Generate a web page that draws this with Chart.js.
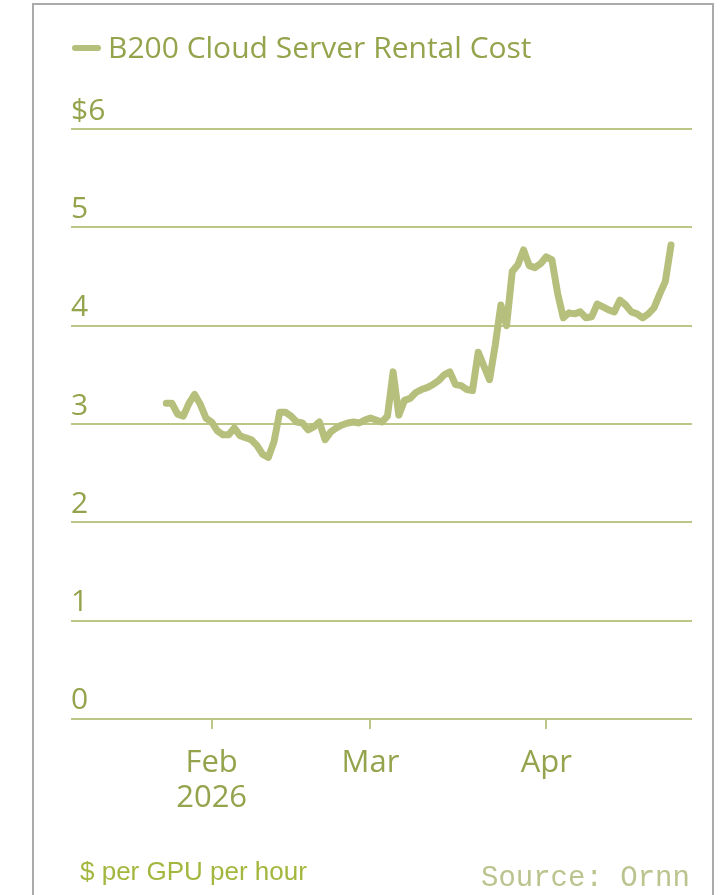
<!DOCTYPE html>
<html>
<head>
<meta charset="utf-8">
<script src="https://cdn.jsdelivr.net/npm/chart.js@4"></script>
<style>
  body { margin: 0; background: #fff; }
  #wrap { position: relative; width: 723px; height: 895px; overflow: hidden; }
  #frame { position: absolute; left: 32px; top: 3px; width: 678px; height: 900px;
           border: 2px solid #ababab; border-bottom: none; }
  #legend { position: absolute; left: 72px; top: 28px; font-family: "Open Sans"; font-size: 30px;
            color: #93a44c; white-space: nowrap; line-height: 38px; }
  #legend .dash { display: inline-block; width: 29px; height: 6px; border-radius: 3px;
                  background: #b6bf7c; vertical-align: middle; margin-right: 7px; position: relative; top: -2px; }
  #unit { position: absolute; left: 80px; top: 856px; font-family: "Liberation Sans"; font-size: 26px;
          color: #a4b63e; white-space: nowrap; }
  #source { position: absolute; left: 481px; top: 862px; font-family: "Liberation Mono"; font-size: 29px;
            color: #bbc48e; white-space: nowrap; }
  canvas { position: absolute; left: 0; top: 0; }
</style>
</head>
<body>
<div id="wrap">
  <div id="frame"></div>
  <canvas id="myChart" width="723" height="895"></canvas>
  <div id="legend"><span class="dash"></span>B200 Cloud Server Rental Cost</div>
  <div id="unit">$ per GPU per hour</div>
  <div id="source">Source: Ornn</div>
</div>
<script>
// daily B200 rental price, $ per GPU per hour, starting Jan 24 2026
const firstDay = 23; // days since Jan 1 2026
const prices = [
  3.21, 3.21, 3.10, 3.08, 3.21, 3.30, 3.20, 3.06, 3.02, 2.93,
  2.89, 2.89, 2.96, 2.88, 2.86, 2.84, 2.78, 2.69, 2.66, 2.82,
  3.12, 3.12, 3.08, 3.02, 3.01, 2.94, 2.97, 3.02, 2.84, 2.92,
  2.96, 2.99, 3.01, 3.02, 3.01, 3.04, 3.06, 3.04, 3.02, 3.08,
  3.53, 3.09, 3.24, 3.26, 3.32, 3.35, 3.37, 3.40, 3.44, 3.50,
  3.53, 3.40, 3.39, 3.35, 3.34, 3.73, 3.59, 3.45, 3.80, 4.21,
  4.00, 4.55, 4.62, 4.77, 4.61, 4.59, 4.63, 4.70, 4.67, 4.33,
  4.08, 4.13, 4.12, 4.14, 4.08, 4.09, 4.22, 4.19, 4.16, 4.14,
  4.26, 4.21, 4.14, 4.12, 4.08, 4.12, 4.18, 4.32, 4.45, 4.82
];

// x axis ticks (days since Jan 1 2026) and their labels
const tickDays = [31, 59, 90];
const tickLabels = [['Feb', '2026'], 'Mar', 'Apr'];
const xMin = 6.2;
const xMax = 115.7;

const yTicks = [0, 1, 2, 3, 4, 5, 6];

const textColor = '#93a44c';
const gridColor = '#bcc686';
const lineColor = '#b6bf7c';

let points = [];
for (let i = 0; i < prices.length; i++) {
  points.push({x: firstDay + i, y: prices[i]});
}

const data = {
  datasets: [{
    label: 'B200 Cloud Server Rental Cost',
    data: points,
    borderColor: lineColor,
    borderWidth: 7,
    pointRadius: 0,
    tension: 0,
    borderJoinStyle: 'round',
    borderCapStyle: 'round'
  }]
};

const config = {
  type: 'line',
  data: data,
  options: {
    responsive: false,
    animation: false,
    layout: {
      padding: {left: 71, right: 31, top: 129, bottom: 62}
    },
    plugins: {
      legend: {display: false},
      tooltip: {enabled: false}
    },
    scales: {
      x: {
        type: 'linear',
        min: xMin,
        max: xMax,
        afterBuildTicks: function(scale) {
          scale.ticks = tickDays.map(function(d) { return {value: d}; });
        },
        ticks: {
          color: textColor,
          font: {family: 'Open Sans', size: 31, lineHeight: 1.13},
          padding: 17,
          maxRotation: 0,
          autoSkip: false,
          callback: function(value) {
            let idx = tickDays.indexOf(value);
            return idx >= 0 ? tickLabels[idx] : '';
          }
        },
        grid: {
          drawOnChartArea: false,
          drawTicks: true,
          tickLength: 10,
          color: gridColor,
          lineWidth: 2
        },
        border: {display: false}
      },
      y: {
        min: 0,
        max: 6,
        afterBuildTicks: function(scale) {
          scale.ticks = yTicks.map(function(v) { return {value: v}; });
        },
        ticks: {
          mirror: true,
          padding: 0,
          labelOffset: -18,
          color: textColor,
          font: {family: 'Open Sans', size: 30},
          callback: function(value) {
            return value == 6 ? '$6' : String(value);
          }
        },
        grid: {
          drawTicks: false,
          color: gridColor,
          lineWidth: 2
        },
        border: {display: false}
      }
    }
  }
};

const myChart = new Chart(document.getElementById('myChart'), config);
</script>
</body>
</html>
